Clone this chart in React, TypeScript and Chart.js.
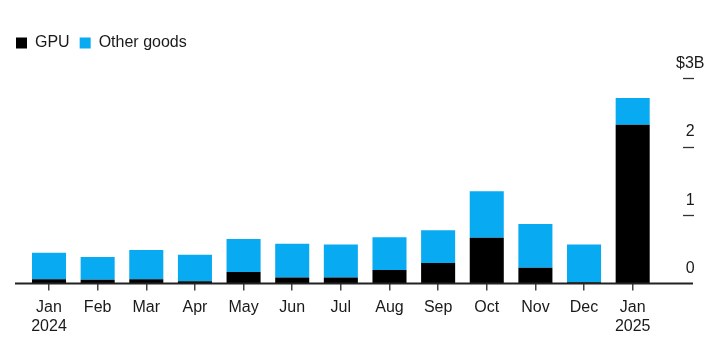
import React, { useEffect, useRef } from "react";
import { Chart, registerables } from "chart.js";

Chart.register(...registerables);

const categories: string[][] = [
  ["Jan", "2024"], ["Feb"], ["Mar"], ["Apr"], ["May"], ["Jun"], ["Jul"],
  ["Aug"], ["Sep"], ["Oct"], ["Nov"], ["Dec"], ["Jan", "2025"],
];
const gpuValues = [0.065, 0.055, 0.065, 0.035, 0.17, 0.09, 0.09, 0.2, 0.3, 0.67, 0.23, 0.02, 2.32];
const otherGoodsValues = [0.385, 0.335, 0.425, 0.385, 0.48, 0.49, 0.48, 0.475, 0.48, 0.68, 0.64, 0.55, 0.39];
const yTickValues = [0, 1, 2, 3];
const yTickLabels = ["0", "1", "2", "$3B"];

const FONT = "'Liberation Sans', Arial, Helvetica, sans-serif";
const TEXT = "#1a1a1a";
const BLUE = "#08aaf2";

const decorPlugin = {
  id: "decor",
  afterDatasetsDraw(chart: any) {
    const { ctx, chartArea, scales } = chart;
    const y = scales.y;
    ctx.save();
    ctx.strokeStyle = "#222";
    ctx.lineWidth = 2;
    ctx.beginPath();
    ctx.moveTo(15, chartArea.bottom);
    ctx.lineTo(693, chartArea.bottom);
    ctx.stroke();
    ctx.lineWidth = 1.3;
    ctx.strokeStyle = "#333";
    for (const v of yTickValues) {
      if (v === 0) continue;
      const py = Math.round(y.getPixelForValue(v)) + 0.5;
      ctx.beginPath();
      ctx.moveTo(683, py);
      ctx.lineTo(694, py);
      ctx.stroke();
    }
    ctx.restore();
  },
};

export default function App() {
  const ref = useRef<HTMLCanvasElement | null>(null);
  useEffect(() => {
    if (!ref.current) return;
    const chart = new Chart(ref.current, {
      type: "bar",
      data: {
        labels: categories,
        datasets: [
          {
            label: "GPU",
            data: gpuValues,
            backgroundColor: "#000000",
            borderWidth: 0,
            stack: "s",
            xAxisID: "x",
            yAxisID: "y",
            categoryPercentage: 1,
            barPercentage: 0.7,
          },
          {
            label: "Other goods",
            data: otherGoodsValues,
            backgroundColor: BLUE,
            borderWidth: 0,
            stack: "s",
            xAxisID: "x",
            yAxisID: "y",
            categoryPercentage: 1,
            barPercentage: 0.7,
          },
        ],
      },
      options: {
        animation: false,
        responsive: true,
        maintainAspectRatio: false,
        layout: { padding: { left: 6, right: 0, top: 25, bottom: 11 } },
        plugins: {
          tooltip: { enabled: false },
          legend: {
            position: "top",
            align: "start",
            labels: {
              boxWidth: 11,
              boxHeight: 11,
              padding: 10,
              color: TEXT,
              font: { family: FONT, size: 16 },
            },
          },
        },
        scales: {
          x: {
            stacked: true,
            offset: true,
            grid: {
              display: true,
              offset: false,
              drawOnChartArea: false,
              drawTicks: true,
              tickLength: 7,
              color: "#444",
              lineWidth: 1.5,
            },
            border: { display: false },
            ticks: {
              color: TEXT,
              font: { family: FONT, size: 16, lineHeight: 1.2 },
              padding: 7,
              maxRotation: 0,
              autoSkip: false,
            },
          },
          y: {
            stacked: true,
            position: "right",
            min: 0,
            max: 3.25,
            grid: { display: false, drawTicks: false },
            border: { display: false },
            afterBuildTicks(s: any) {
              s.ticks = yTickValues.map((v) => ({ value: v }));
            },
            afterFit(s: any) {
              s.width = 62;
            },
            ticks: {
              color: TEXT,
              font: { family: FONT, size: 16 },
              crossAlign: "center",
              padding: 19,
              labelOffset: -15,
              callback: (v: any) => {
                const i = yTickValues.indexOf(Number(v));
                return i >= 0 ? yTickLabels[i] : "";
              },
            },
          },
          pad: {
            type: "linear",
            position: "left",
            display: true,
            grid: { display: false },
            border: { display: false },
            ticks: { display: false },
            afterFit(s: any) {
              s.width = 18.7;
            },
          },
        },
      },
      plugins: [decorPlugin],
    });
    return () => chart.destroy();
  }, []);
  return (
    <div style={{ position: "absolute", left: 0, top: 0, width: 719, height: 354, background: "#fff" }}>
      <canvas ref={ref} />
    </div>
  );
}
